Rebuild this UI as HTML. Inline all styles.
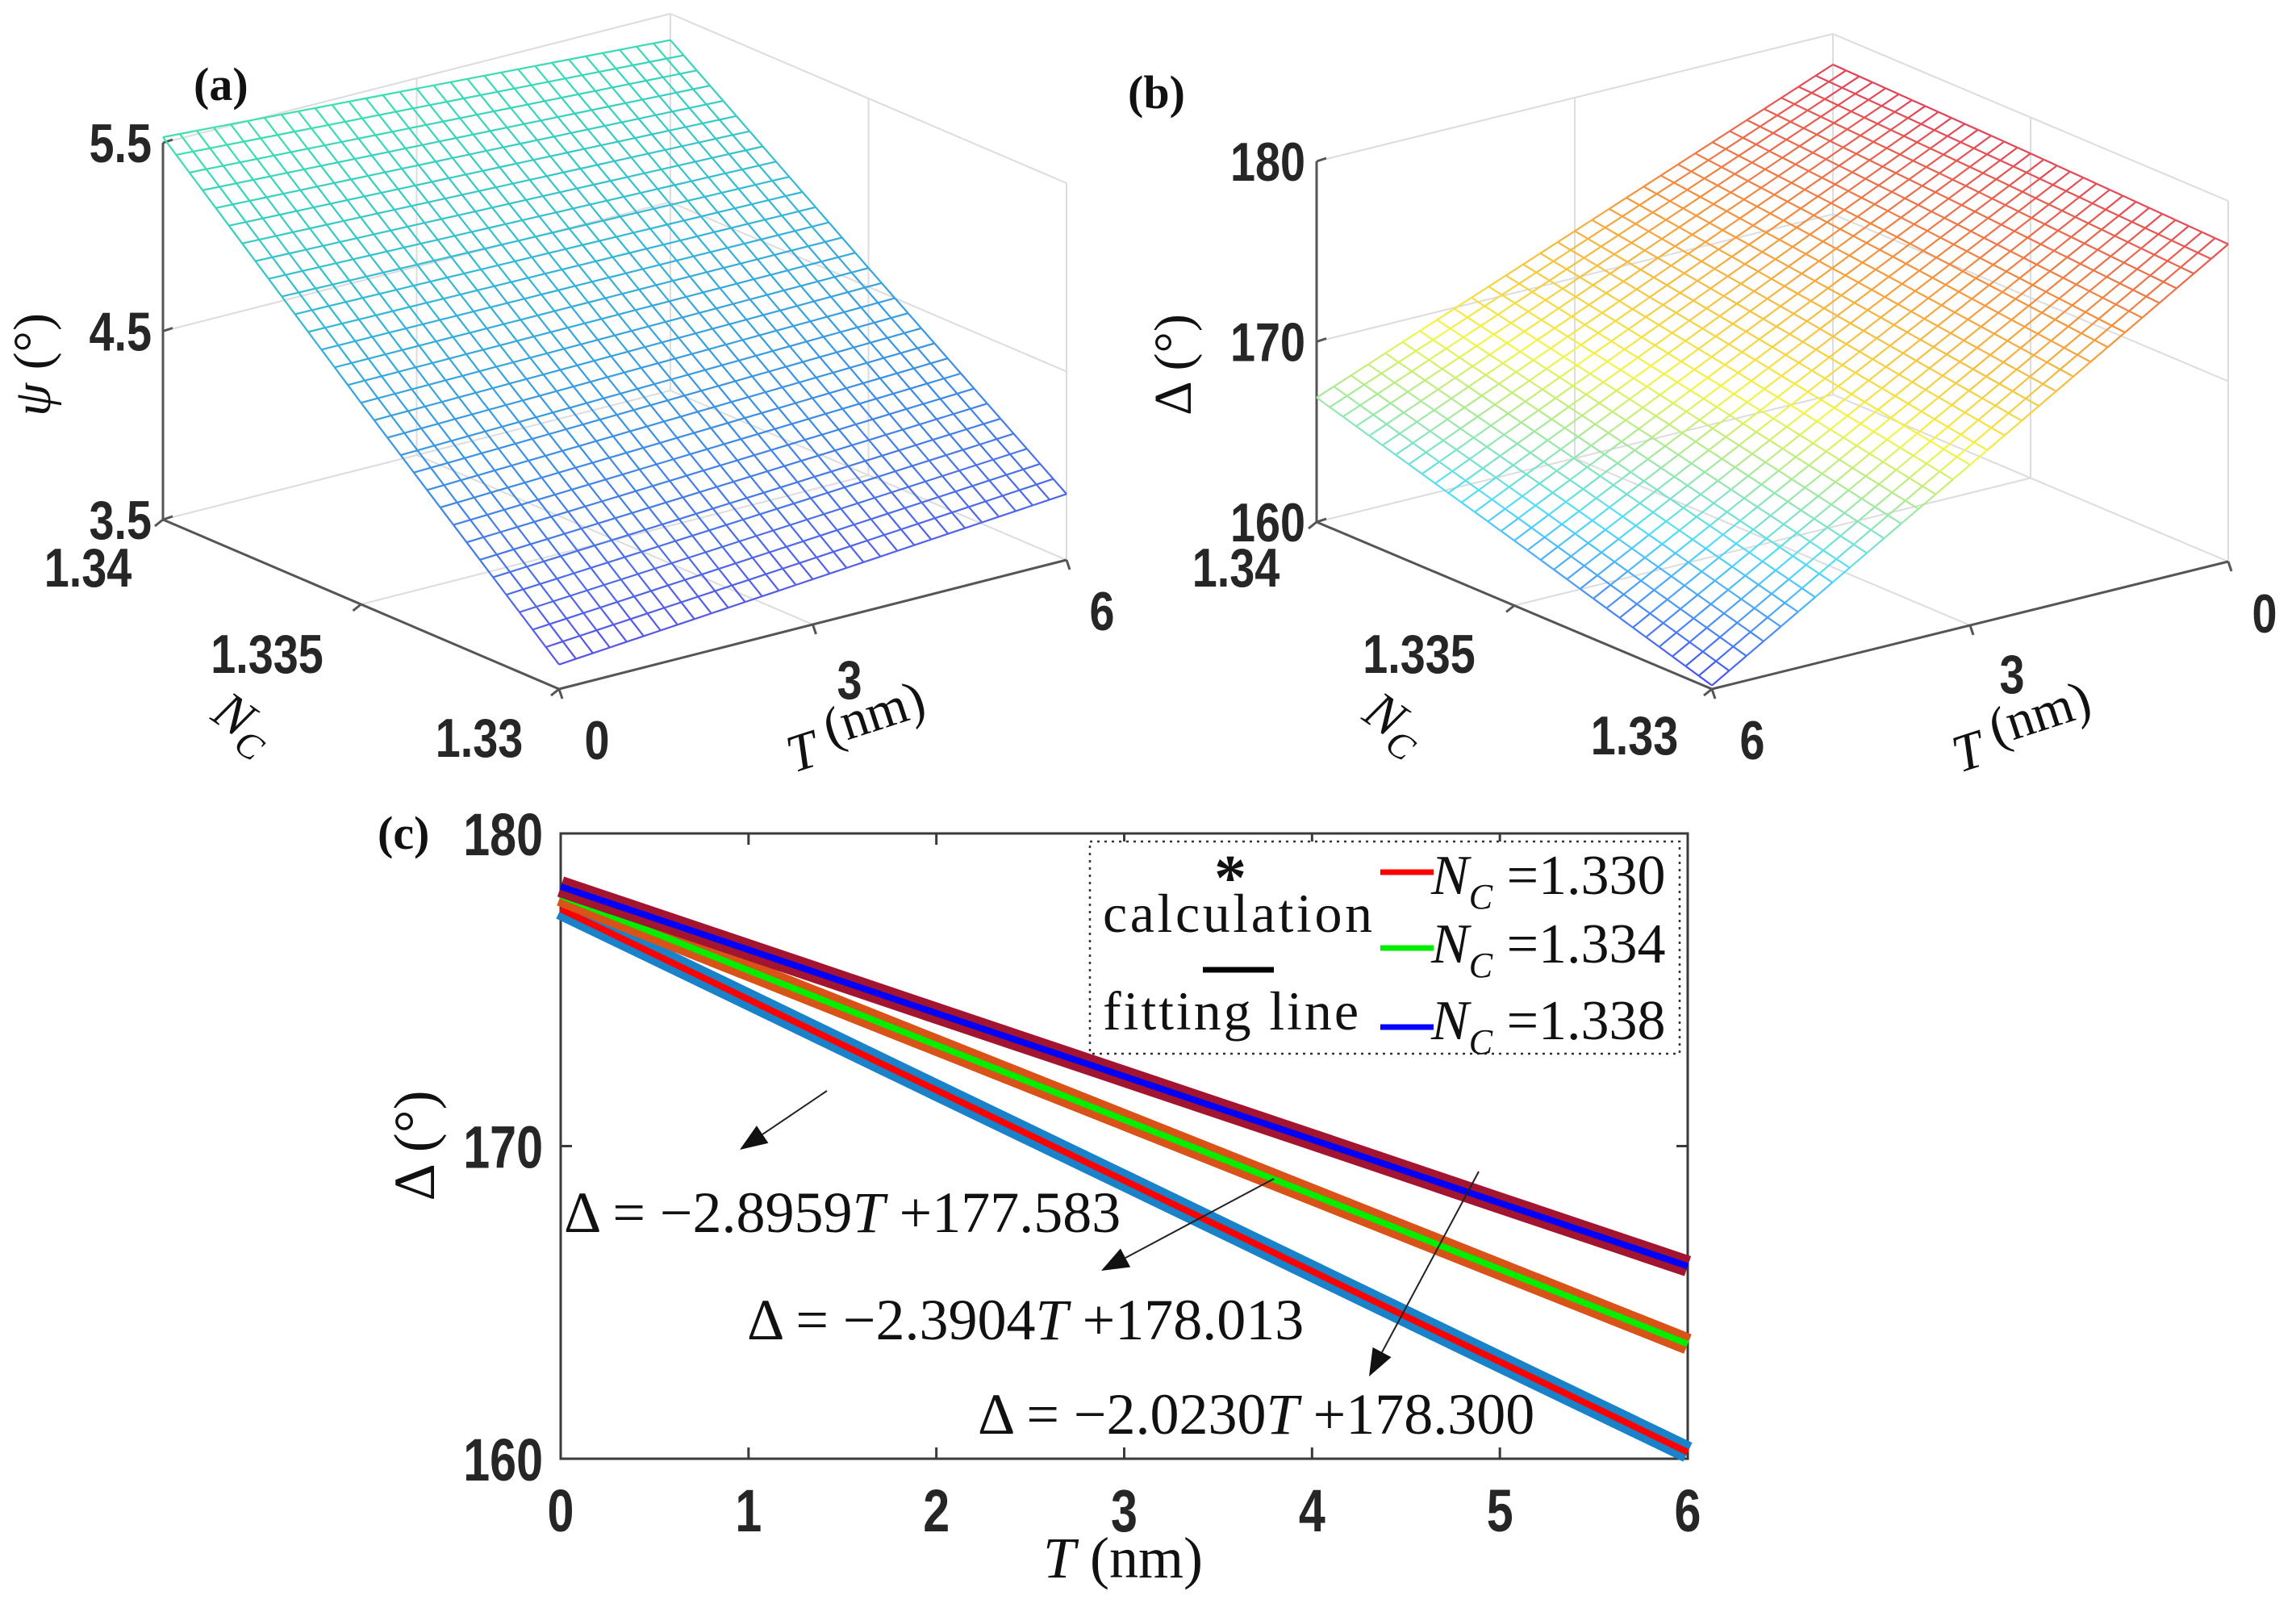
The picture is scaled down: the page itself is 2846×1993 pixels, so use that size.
<!DOCTYPE html>
<html><head><meta charset="utf-8">
<style>
html,body{margin:0;padding:0;background:#fff;}
svg{display:block;}
.tk{font-family:"Liberation Sans",Arial,sans-serif;font-weight:bold;fill:#262626;}
.sf{font-family:"Liberation Serif","Times New Roman",serif;fill:#111;}
</style></head>
<body>
<svg id="fig" xmlns="http://www.w3.org/2000/svg" width="2846" height="1993" viewBox="0 0 2846 1993">
<rect width="2846" height="1993" fill="#fff"/>
<g id="pa"></g>
<g id="pb"></g>
<g id="pc"></g>
<text x="240" y="124" class="sf" font-size="58" font-weight="bold">(a)</text>
<text x="1398" y="134" class="sf" font-size="58" font-weight="bold">(b)</text>
<text x="468" y="1052" class="sf" font-size="58" font-weight="bold">(c)</text>
</svg>
<script>
// ---------- DATA ----------
// panel (a): psi (deg) at NC samples for T = 0 and T = 6
const ncSamples = [1.330, 1.335, 1.340];
const psiAtT0 = [3.63, 4.57, 5.53];
const psiAtT6 = [3.85, 4.60, 5.36];
// panel (b): Delta (deg) at NC samples for T = 0 and T = 6
const deltaAtT0 = [177.6, 178.0, 178.3];
const deltaAtT6 = [160.2, 163.6, 166.9];
// panel (c)
const tValues = [0, 1, 2, 3, 4, 5, 6];
const seriesNames = ['1.330', '1.334', '1.338'];
const delta1330 = [177.58, 174.69, 171.79, 168.90, 166.00, 163.10, 160.21];
const delta1334 = [178.01, 175.62, 173.23, 170.84, 168.45, 166.06, 163.67];
const delta1338 = [178.30, 176.28, 174.25, 172.23, 170.21, 168.18, 166.16];
const cXTicks = [0, 1, 2, 3, 4, 5, 6];
const cYTicks = [160, 170, 180];
const aZTicks = [3.5, 4.5, 5.5];
const bZTicks = [160, 170, 180];
const ncTickLabels = ['1.33', '1.335', '1.34'];

const NS = 'http://www.w3.org/2000/svg';
function mk(tag, parent, attrs) {
  const e = document.createElementNS(NS, tag);
  for (const k in attrs) e.setAttribute(k, attrs[k]);
  parent.appendChild(e);
  return e;
}
function lerp(a, b, t) { return a + (b - a) * t; }
function sampleNC(arr, nc) {
  const f = (nc - ncSamples[0]) / 0.005;
  const i = Math.max(0, Math.min(1, Math.floor(f)));
  return lerp(arr[i], arr[i + 1], f - i);
}

// ---------- 3D panels ----------
function panel3d(g, cfg) {
  const P = (t, nc, z) => {
    const ft = cfg.tReversed ? (6 - t) / 6 : t / 6;
    const fn = (nc - 1.33) / 0.01;
    const fz = (z - cfg.zMin) / (cfg.zMax - cfg.zMin);
    return [cfg.O[0] + ft * cfg.vT[0] + fn * cfg.vN[0] + fz * cfg.vZ[0],
            cfg.O[1] + ft * cfg.vT[1] + fn * cfg.vN[1] + fz * cfg.vZ[1]];
  };
  const tFront = cfg.tReversed ? 6 : 0, tBack = 6 - tFront;
  const zl = cfg.zMin, zh = cfg.zMax;
  const light = '#dcdcdc', dark = '#555';
  function ln(a, b, col, w, name) {
    const e = mk('line', g, {x1: a[0], y1: a[1], x2: b[0], y2: b[1], stroke: col, 'stroke-width': w});
    
    
  }
  ln(P(tFront, 1.34, zh), P(tBack, 1.34, zh), light, 2, 'box-edge');
  ln(P(tBack, 1.34, zh), P(tBack, 1.33, zh), light, 2, 'box-edge');
  ln(P(tBack, 1.34, zl), P(tBack, 1.34, zh), light, 2, 'box-edge');
  ln(P(tBack, 1.33, zl), P(tBack, 1.33, zh), light, 2, 'box-edge');
  ln(P(tFront, 1.34, zl), P(tBack, 1.34, zl), light, 2, 'box-edge');
  ln(P(tBack, 1.34, zl), P(tBack, 1.33, zl), light, 2, 'box-edge');
  const zmid = (zl + zh) / 2;
  ln(P(tFront, 1.34, zmid), P(tBack, 1.34, zmid), light, 2, 'grid-line');
  ln(P(tBack, 1.34, zmid), P(tBack, 1.33, zmid), light, 2, 'grid-line');
  ln(P(3, 1.34, zl), P(3, 1.34, zh), light, 2, 'grid-line');
  ln(P(tBack, 1.335, zl), P(tBack, 1.335, zh), light, 2, 'grid-line');
  ln(P(3, 1.33, zl), P(3, 1.34, zl), light, 2, 'grid-line');
  ln(P(tFront, 1.335, zl), P(tBack, 1.335, zl), light, 2, 'grid-line');
  ln(P(tFront, 1.34, zl), P(tFront, 1.34, zh), dark, 3, 'z-axis');
  ln(P(tFront, 1.34, zl), P(tFront, 1.33, zl), dark, 3, 'nc-axis');
  ln(P(tFront, 1.33, zl), P(tBack, 1.33, zl), dark, 3, 't-axis');
  cfg.zTicks.forEach((z, i) => {
    const p = P(tFront, 1.34, z);
    ln(p, [p[0] + 12, p[1] - 4], dark, 3, 'z-tick');
    const t = mk('text', g, {class: 'tk', 'font-size': 68, 'text-anchor': 'end',
      transform: `translate(${p[0] - 14},${p[1] + 24}) scale(0.82,1)`});
    t.textContent = cfg.zLabels[i];
    
    
  });
  [1.33, 1.335, 1.34].forEach((nc, i) => {
    const p = P(tFront, nc, zl);
    ln(p, [p[0] - 10, p[1] + 8], dark, 3, 'nc-tick');
    const t = mk('text', g, {class: 'tk', 'font-size': 68, 'text-anchor': 'middle',
      transform: `translate(${cfg.ncLabelPos[i][0]},${cfg.ncLabelPos[i][1] + 24}) scale(0.82,1)`});
    t.textContent = ncTickLabels[i];
    
    
  });
  [0, 3, 6].forEach((tv, i) => {
    const p = P(tv, 1.33, zl);
    ln(p, [p[0] + 4, p[1] + 12], dark, 3, 't-tick');
    const t = mk('text', g, {class: 'tk', 'font-size': 68, 'text-anchor': 'middle',
      transform: `translate(${cfg.tLabelPos[i][0]},${cfg.tLabelPos[i][1] + 24}) scale(0.82,1)`});
    t.textContent = String(tv);
    
    
  });
  const N = 30;
  const val = (t, nc) => lerp(sampleNC(cfg.at0, nc), sampleNC(cfg.at6, nc), t / 6);
  for (let dir = 0; dir < 2; dir++) {
    for (let i = 0; i <= N; i++) {
      for (let j = 0; j < N; j++) {
        let t1, t2, n1, n2;
        if (dir === 0) { t1 = t2 = 6 * i / N; n1 = 1.33 + 0.01 * j / N; n2 = 1.33 + 0.01 * (j + 1) / N; }
        else { n1 = n2 = 1.33 + 0.01 * i / N; t1 = 6 * j / N; t2 = 6 * (j + 1) / N; }
        const v1 = val(t1, n1), v2 = val(t2, n2);
        const a = P(t1, n1, v1), b = P(t2, n2, v2);
        const e = mk('line', g, {x1: a[0], y1: a[1], x2: b[0], y2: b[1],
          stroke: cfg.cmap((v1 + v2) / 2), 'stroke-width': 2.2});
        
        
      }
    }
  }
  const zt = mk('text', g, {class: 'sf', 'font-size': 66,
    transform: `translate(${cfg.zTitle[0]},${cfg.zTitle[1]}) rotate(-90)`, 'text-anchor': 'middle'});
  zt.innerHTML = cfg.zTitleText;
  
  
  const nt = mk('text', g, {class: 'sf', 'font-size': 66, 'font-style': 'italic',
    transform: `translate(${cfg.ncTitle[0]},${cfg.ncTitle[1]}) rotate(35)`, 'text-anchor': 'middle'});
  nt.innerHTML = 'N<tspan font-size="46" dy="14">C</tspan>';
  
  
  const tt = mk('text', g, {class: 'sf', 'font-size': 66,
    transform: `translate(${cfg.tTitle[0]},${cfg.tTitle[1]}) rotate(-18)`, 'text-anchor': 'middle'});
  tt.innerHTML = '<tspan font-style="italic">T</tspan> <tspan dy="-18">(nm)</tspan>';
  
  
}
function mixc(stops, f) {
  f = Math.max(0, Math.min(1, f));
  const n = stops.length - 1, i = Math.min(n - 1, Math.floor(f * n)), u = f * n - i;
  const a = stops[i], b = stops[i + 1];
  return `rgb(${Math.round(lerp(a[0], b[0], u))},${Math.round(lerp(a[1], b[1], u))},${Math.round(lerp(a[2], b[2], u))})`;
}
const parula = [[90, 80, 235], [60, 140, 230], [50, 185, 215], [60, 225, 175]];
const jet = [[70, 70, 240], [80, 220, 250], [245, 245, 70], [245, 150, 60], [225, 60, 90]];
panel3d(document.getElementById('pa'), {
  O: [693, 854], vT: [629, -160], vN: [-491, -210], vZ: [0, -467], tReversed: false,
  zMin: 3.5, zMax: 5.5, zTicks: aZTicks, zLabels: ['3.5', '4.5', '5.5'],
  at0: psiAtT0, at6: psiAtT6,
  cmap: v => mixc(parula, (v - 3.6) / 1.9),
  ncLabelPos: [[594, 914], [331, 810], [109, 703]],
  tLabelPos: [[740, 917], [1053, 842], [1366, 757]],
  zTitle: [62, 452], zTitleText: '<tspan font-style="italic">ψ</tspan> (°)',
  ncTitle: [290, 912], tTitle: [1070, 930]
});
panel3d(document.getElementById('pb'), {
  O: [2122, 854], vT: [640, -158], vN: [-490, -207], vZ: [0, -447], tReversed: true,
  zMin: 160, zMax: 180, zTicks: bZTicks, zLabels: ['160', '170', '180'],
  at0: deltaAtT0, at6: deltaAtT6,
  cmap: v => mixc(jet, (v - 160) / 18.5),
  ncLabelPos: [[2026, 911], [1759, 810], [1532, 703]],
  tLabelPos: [[2807, 760], [2494, 835], [2172, 917]],
  zTitle: [1476, 452], zTitleText: 'Δ (°)',
  ncTitle: [1717, 912], tTitle: [2515, 930]
});

// ---------- panel (c) ----------
(function () {
  const g = document.getElementById('pc');
  const L = 695, R = 2092, Tp = 1033, B = 1808;
  const xs = t => L + (t - 0) / 6 * (R - L);
  const ys = v => B - (v - 160) / 20 * (B - Tp);
  const box = mk('rect', g, {x: L, y: Tp, width: R - L, height: B - Tp, fill: 'none', stroke: '#3a3a3a', 'stroke-width': 3});
  
  
  cXTicks.forEach(t => {
    const x = xs(t);
    const a = mk('path', g, {d: `M${x},${B}v-14M${x},${Tp}v14`, stroke: '#3a3a3a', 'stroke-width': 3});
    
    
    const tx = mk('text', g, {class: 'tk', 'font-size': 74, 'text-anchor': 'middle', transform: `translate(${x},${B + 90}) scale(0.8,1)`});
    tx.textContent = String(t);
    
    
  });
  cYTicks.forEach(v => {
    const y = ys(v);
    const a = mk('path', g, {d: `M${L},${y}h14M${R},${y}h-14`, stroke: '#3a3a3a', 'stroke-width': 3});
    
    
    const tx = mk('text', g, {class: 'tk', 'font-size': 74, 'text-anchor': 'end', transform: `translate(${L - 22},${y + 27}) scale(0.8,1)`});
    tx.textContent = String(v);
    
    
  });
  const series = [
    {vals: delta1330, marker: '#1a82c8', line: '#ff0000'},
    {vals: delta1334, marker: '#d95319', line: '#00ee00'},
    {vals: delta1338, marker: '#a2142f', line: '#0000ff'}
  ];
  series.forEach((s, si) => {
    const pts = s.vals.map((v, i) => `${xs(tValues[i])},${ys(v)}`).join(' ');
    const band = mk('polyline', g, {points: pts, fill: 'none', stroke: s.marker, 'stroke-width': 26, 'stroke-linecap': 'butt'});
    
    
    const fit = mk('polyline', g, {points: pts, fill: 'none', stroke: s.line, 'stroke-width': 8});
    
    
  });
  const ann = [
    {from: [1025, 1352], to: [917, 1425], text: 'Δ = −2.8959<tspan font-style="italic">T</tspan> +177.583', tx: 699, ty: 1527},
    {from: [1579, 1461], to: [1365, 1575], text: 'Δ = −2.3904<tspan font-style="italic">T</tspan> +178.013', tx: 926, ty: 1660},
    {from: [1833, 1452], to: [1697, 1706], text: 'Δ = −2.0230<tspan font-style="italic">T</tspan> +178.300', tx: 1212, ty: 1777}
  ];
  ann.forEach((a, i) => {
    const dx = a.to[0] - a.from[0], dy = a.to[1] - a.from[1], l = Math.hypot(dx, dy);
    const ux = dx / l, uy = dy / l;
    const bx = a.to[0] - ux * 34, by = a.to[1] - uy * 34;
    const ln = mk('line', g, {x1: a.from[0], y1: a.from[1], x2: bx, y2: by, stroke: '#222', 'stroke-width': 2});
    
    
    const hd = mk('polygon', g, {points: `${a.to[0]},${a.to[1]} ${bx - uy * 13},${by + ux * 13} ${bx + uy * 13},${by - ux * 13}`, fill: '#111'});
    
    
    const t = mk('text', g, {x: a.tx, y: a.ty, class: 'sf', 'font-size': 72});
    t.innerHTML = a.text;
    
    
  });
  const xt = mk('text', g, {x: 1392, y: 1955, class: 'sf', 'font-size': 72, 'text-anchor': 'middle'});
  xt.innerHTML = '<tspan font-style="italic">T</tspan> (nm)';
  
  
  const yt = mk('text', g, {class: 'sf', 'font-size': 72, 'text-anchor': 'middle', transform: 'translate(538,1420) rotate(-90)'});
  yt.textContent = 'Δ (°)';
  
  
  const lg = mk('g', g, {});
  
  
  const lb = mk('rect', lg, {x: 1351, y: 1043, width: 731, height: 263, fill: '#fff', stroke: '#333', 'stroke-width': 2.5, 'stroke-dasharray': '3 6'});
  
  
  const st = mk('text', lg, {x: 1525, y: 1115, class: 'sf', 'font-size': 80, 'font-weight': 'bold', 'text-anchor': 'middle'});
  st.textContent = '*';
  
  
  const c1 = mk('text', lg, {x: 1367, y: 1155, class: 'sf', 'font-size': 68, textLength: 334});
  c1.textContent = 'calculation';
  
  
  const bl = mk('line', lg, {x1: 1491, y1: 1202, x2: 1579, y2: 1202, stroke: '#000', 'stroke-width': 7});
  
  
  const f1 = mk('text', lg, {x: 1367, y: 1276, class: 'sf', 'font-size': 68, textLength: 317});
  f1.textContent = 'fitting line';
  
  
  const rows = [{y: 1081, by: 1108}, {y: 1175, by: 1193}, {y: 1273, by: 1288}];
  series.forEach((s, i) => {
    const sw = mk('line', lg, {x1: 1711, y1: rows[i].y, x2: 1777, y2: rows[i].y, stroke: s.line, 'stroke-width': 7});
    
    
    const t = mk('text', lg, {x: 1774, y: rows[i].by, class: 'sf', 'font-size': 70});
    t.innerHTML = `<tspan font-style="italic">N</tspan><tspan font-style="italic" font-size="44" dy="18">C</tspan><tspan dy="-18"> =${seriesNames[i]}</tspan>`;
    
    
  });
})();
</script>
</body></html>
